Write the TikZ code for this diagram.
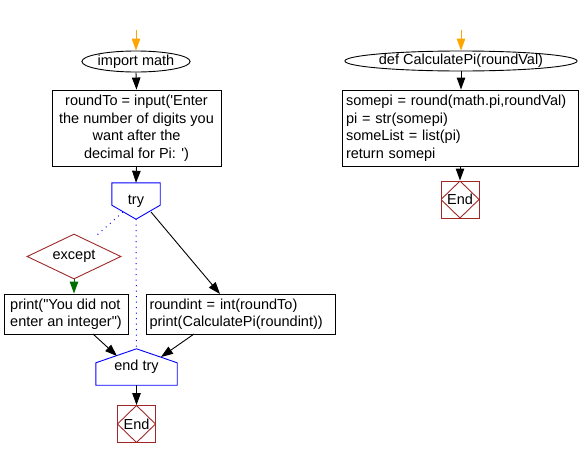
\documentclass[tikz,border=0pt]{standalone}
\usepackage{fontspec}
\newfontfamily\af{Liberation Sans}
\usetikzlibrary{arrows.meta,shapes.geometric}
\definecolor{brick}{RGB}{160,40,40}
\definecolor{okgreen}{RGB}{0,110,0}
\definecolor{startor}{RGB}{255,165,0}
\begin{document}
\begin{tikzpicture}[x=1pt,y=-1pt,
  every node/.style={font=\af\fontsize{14.5}{17.5}\selectfont,inner sep=0pt},
  box/.style={draw,line width=0.9pt},
  oval/.style={draw,ellipse,line width=0.9pt},
  arr/.style={line width=0.9pt,-{Triangle[length=12pt,width=8.5pt]}},
  dotline/.style={blue,line width=1pt,dash pattern=on 1pt off 4.5pt},
  bluebox/.style={blue,line width=0.9pt},
  endbox/.style={draw=brick,line width=0.9pt,minimum width=38pt,minimum height=37pt,
    path picture={\draw[brick,line width=0.9pt] (path picture bounding box.north) -- (path picture bounding box.west) -- (path picture bounding box.south) -- (path picture bounding box.east) -- cycle;}},
  cond/.style={draw=brick,diamond,aspect=2.1,line width=0.9pt,minimum width=94pt,minimum height=45pt}]
\useasboundingbox (0,0) rectangle (581,458);

% left flow
\coordinate (s1) at (136,30);
\node[oval,minimum width=98pt,minimum height=21pt] (im) at (136,61.5) {import math};
\node[box,minimum width=169pt,minimum height=76pt,align=center] (inp) at (136.5,128)
  {roundTo = input('Enter\\the number of digits you\\want after the\\decimal for Pi: ')};
\node[minimum width=48pt,minimum height=36pt] (try) at (136,201) {try};
\draw[bluebox] (try.north west) -- (try.north east) -- ([yshift=14pt]try.south east) -- (try.south) -- ([yshift=14pt]try.south west) -- cycle;
\node[cond] (exc) at (74,256.5) {except};
\node[box,minimum width=124pt,minimum height=40pt,align=left] (pb) at (66,314)
  {print("You did not\\enter an integer")};
\node[box,minimum width=189pt,minimum height=40pt,text width=182pt,align=left] (pr) at (240.5,314)
  {roundint = int(roundTo)\\print(CalculatePi(roundint))};
\node[minimum width=81pt,minimum height=36pt] (etry) at (136.5,367) {end try};
\draw[bluebox] (etry.north) -- ([yshift=-14pt]etry.north east) -- (etry.south east) -- (etry.south west) -- ([yshift=-14pt]etry.north west) -- cycle;
\node[endbox] (end1) at (136.5,424) {End};

\coordinate (tryL) at (123,212);
\coordinate (excT) at (97,235);
\coordinate (tryR) at (151,212);
\coordinate (prT) at (220,294);
\coordinate (pbB) at (93,334);
\coordinate (prB) at (194,334);
\coordinate (etL) at (117,356);
\coordinate (etR) at (161,357);

\draw[arr,startor] (s1) -- (im.north);
\draw[arr] (im.south) -- (inp.north);
\draw[arr] (inp.south) -- (try.north);
\draw[dotline] (tryL) -- (excT);
\draw[arr,okgreen] (exc.south) -- (exc.south |- pb.north);
\draw[dotline] (try.south) -- (etry.north);
\draw[arr] (tryR) -- (prT);
\draw[arr] (pbB) -- (etL);
\draw[arr] (prB) -- (etR);
\draw[arr] (etry.south) -- (end1.north);

% right flow
\coordinate (s2) at (461,30);
\node[oval,minimum width=185pt,minimum height=20pt] (def) at (461,61) {def CalculatePi(roundVal)};
\node[box,minimum width=236pt,minimum height=76pt,text width=228pt,align=left] (body) at (460,128)
  {somepi = round(math.pi,roundVal)\\pi = str(somepi)\\someList = list(pi)\\return somepi};
\node[endbox] (end2) at (460,199.5) {End};
\draw[arr,startor] (s2) -- (def.north);
\draw[arr] (def.south) -- (def.south |- body.north);
\draw[arr] (body.south) -- (end2.north);
\end{tikzpicture}
\end{document}
